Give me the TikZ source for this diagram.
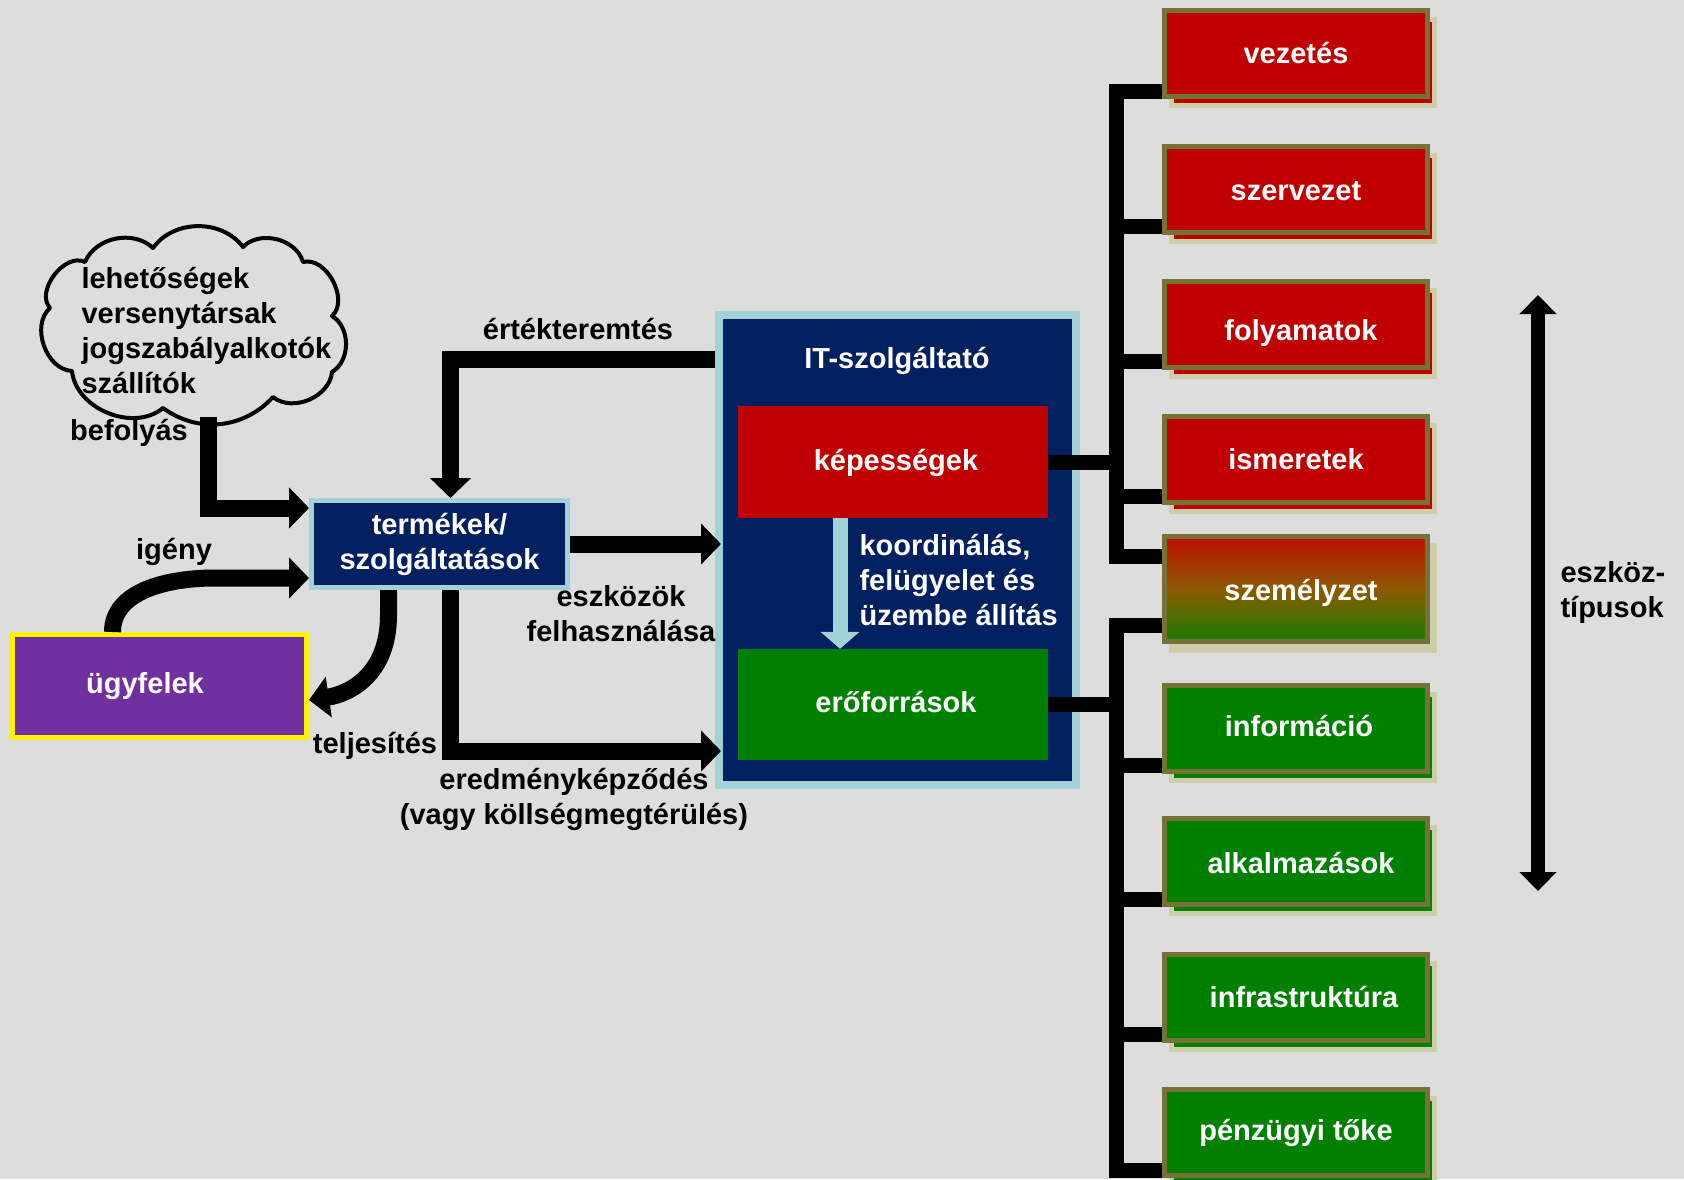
\documentclass[tikz,border=0pt]{standalone}
\usepackage{fontspec}
\setmainfont{Liberation Sans}
\usetikzlibrary{arrows.meta,calc,shadows}

\definecolor{canvasgray}{RGB}{221,221,221}
\definecolor{capred}{RGB}{192,0,0}
\definecolor{resgreen}{RGB}{0,128,0}
\definecolor{olivefr}{RGB}{118,113,55}
\definecolor{shadowtan}{RGB}{207,204,172}
\definecolor{navyfill}{RGB}{0,32,96}
\definecolor{paleblue}{RGB}{160,210,216}
\definecolor{clientpurple}{RGB}{112,48,160}
\definecolor{mixtop}{RGB}{190,15,0}
\definecolor{mixmid}{RGB}{140,90,0}
\definecolor{mixbot}{RGB}{25,125,0}

\tikzset{
  every node/.style={font=\fontsize{29}{35}\selectfont\bfseries},
  assetbase/.style={draw=olivefr, line width=5pt, minimum width=263pt,
    minimum height=86pt, inner sep=0pt, text=white,
    text height=26pt, text depth=6pt},
  assetred/.style={assetbase, fill=capred,
    general shadow={shadow xshift=7pt, shadow yshift=-9pt, fill=capred,
      draw=shadowtan, line width=5pt}},
  assetgreen/.style={assetbase, fill=resgreen,
    general shadow={shadow xshift=7pt, shadow yshift=-9pt, fill=resgreen,
      draw=shadowtan, line width=5pt}},
  assetmixed/.style={assetbase, minimum height=105pt,
    general shadow={shadow xshift=7pt, shadow yshift=-9pt, fill=shadowtan,
      draw=shadowtan, line width=5pt},
    top color=mixtop, bottom color=mixbot, middle color=mixmid},
  innerbox/.style={minimum width=310pt, inner sep=0pt, text=white,
    text height=22pt, text depth=6pt},
  fatarrow/.style={line width=17pt, -{Triangle[width=40pt,length=20pt]}},
  bracket/.style={line width=15pt},
  cloudline/.style={line width=4pt, line join=round},
}

\begin{document}
\begin{tikzpicture}[x=1pt,y=-1pt]
\useasboundingbox (0,0) rectangle (1684,1179);
\fill[canvasgray] (0,0) rectangle (1684,1179);

% outside influences: a cloud of puffs
\draw[cloudline] (85,262) to[bend left=55] (153,248) to[bend left=54] (243,247)
  to[bend left=60] (303,262) to[bend left=76] (332,316)
  to[bend left=59] (332,372) to[bend left=62] (273,397)
  to[bend left=42] (163,408) to[bend left=62] (72,371)
  to[bend left=68] (50,308) to[bend left=79] (85,262) -- cycle;
\node[anchor=west, align=left] (cloudtext) at (78,330)
  {lehetőségek\\versenytársak\\jogszabályalkotók\\szállítók};

% products and customers
\node[draw=paleblue, line width=5pt, fill=navyfill, text=white, align=center,
  minimum width=256pt, minimum height=87pt, inner sep=0pt] (term)
  at (439.5,544) {termékek/\\szolgáltatások};
\node[draw=yellow, line width=5pt, fill=clientpurple, text=white,
  minimum width=294pt, minimum height=103pt, inner sep=0pt] (ugy)
  at (159.5,686) {ügyfelek\hspace*{29pt}};

% IT service provider
\node[draw=paleblue, line width=8pt, fill=navyfill, minimum width=357pt,
  minimum height=470pt, inner sep=0pt] (it) at (897.5,550) {};
\node[text=white] (ittitle) at (897,361) {IT-szolgáltató};
\node[innerbox, fill=capred, minimum height=112pt] (kep) at (893,462) {\hspace*{6pt}képességek};
\node[innerbox, fill=resgreen, minimum height=111pt] (eroforr) at (893,704.5) {\hspace*{6pt}erőforrások};
\node[anchor=west, align=left, text=white] (coordtext) at (856,580)
  {koordinálás,\\felügyelet és\\üzembe állítás};

% asset types
\node[assetred] (vez) at (1296,53.5) {vezetés};
\node[assetred] (sze) at (1296,189) {\raisebox{-1.5pt}{szervezet}};
\node[assetred] (foly) at (1296,324) {\hspace*{10pt}\raisebox{-6pt}{folyamatok}};
\node[assetred] (ism) at (1296,459) {ismeretek};
\node[assetmixed] (szem) at (1296,589) {\hspace*{10pt}\raisebox{-1pt}{személyzet}};
\node[assetgreen] (inf) at (1296,728) {\hspace*{6pt}\raisebox{2pt}{információ}};
\node[assetgreen] (alk) at (1296,861.5) {\hspace*{10pt}\raisebox{-2pt}{alkalmazások}};
\node[assetgreen] (infra) at (1296,997) {\hspace*{16pt}infrastruktúra};
\node[assetgreen] (pen) at (1296,1132.5) {\raisebox{2pt}{pénzügyi tőke}};

% helper coordinates
\coordinate (bx) at (1116,0);
\coordinate (szemtop) at ([yshift=-22pt]szem.north west);
\coordinate (szembot) at ([yshift=19pt]szem.south west);
\coordinate (pentick) at ([yshift=8pt]pen.south west);
\coordinate (infl) at (208,417);
\coordinate (resy) at (0,751);
\coordinate (itedge) at ([xshift=6pt]it.west);
\coordinate (coordx) at (840,0);
\coordinate (typtop) at (1538,295);
\coordinate (typbot) at (1538,891);

% brackets joining the asset types
\draw[bracket] ([yshift=8pt]vez.south west) -| (bx |- szemtop) -- (szemtop);
\foreach \b in {sze,foly,ism,inf,alk,infra}
  \draw[bracket] ([yshift=8pt]\b.south west) -- ++(-46,0);
\draw[bracket] (szembot) -| (bx |- pentick) -- (pentick);
\draw[bracket] (kep.east) -- (bx |- kep.east);
\draw[bracket] (eroforr.east) -- (bx |- eroforr.east);

% flows
\draw[fatarrow] (infl) |- ([yshift=36pt]term.west);
\draw[fatarrow] ([xshift=-47pt]ugy.north) .. controls +(0,-40) and +(-50,0)
  .. (215,578) -- ([yshift=-34pt]term.west);
\draw[fatarrow] ([xshift=-51pt]term.south) -- ++(0,25)
  .. controls +(0,60) and +(40,-6) .. ([yshift=-14pt]ugy.east);
\draw[fatarrow] ([xshift=11pt]term.south) |- (itedge |- resy);
\draw[fatarrow] (term.east) -- (itedge |- term.east);
\draw[fatarrow] ($(it.north west)+(0,48)$) -| ([xshift=11pt]term.north);
\draw[line width=15pt, paleblue, -{Triangle[width=38pt,length=17pt]}]
  (kep.south -| coordx) -- (eroforr.north -| coordx);
\draw[line width=14pt, {Triangle[width=36pt,length=19pt]}-{Triangle[width=36pt,length=19pt]}]
  (typtop) -- (typbot);

% labels
\node (lblvalue) at (578,329) {értékteremtés};
\node (lblinfl) at (129,433) {befolyás};
\node (lbldemand) at (174,552) {igény};
\node[align=center] (lbluse) at (621,614) {eszközök\\felhasználása};
\node (lbldeliv) at (375,746) {teljesítés};
\node[align=center] (lblresult) at (574,799)
  {eredményképződés\\(vagy köllségmegtérülés)};
\node[anchor=west, align=left] (lbltypes) at (1557,592) {eszköz-\\típusok};
\end{tikzpicture}
\end{document}
